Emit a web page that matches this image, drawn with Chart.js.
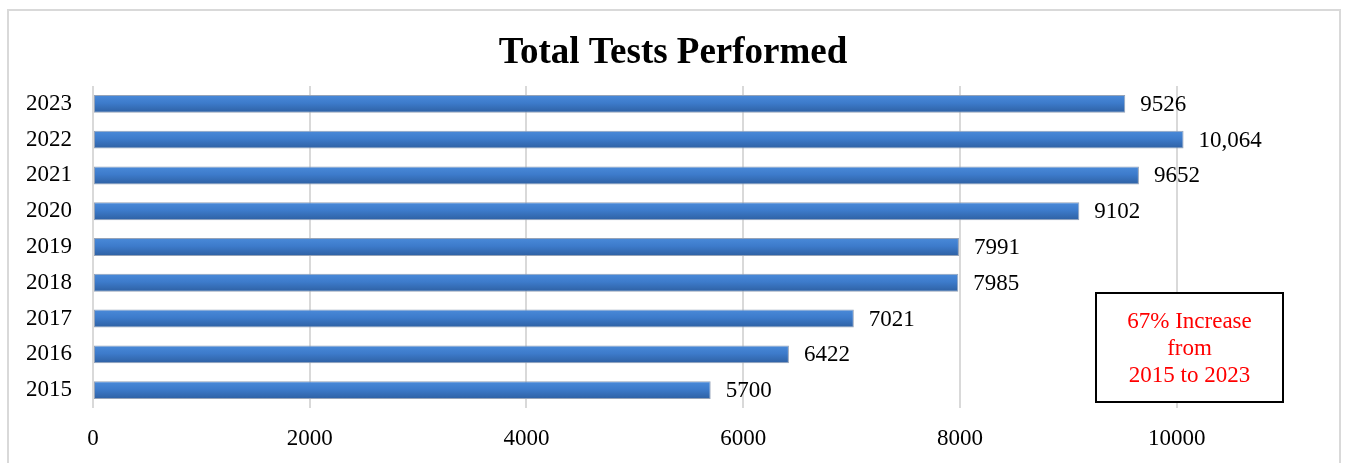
<!DOCTYPE html>
<html>
<head>
<meta charset="utf-8">
<title>Total Tests Performed</title>
<script src="https://cdn.jsdelivr.net/npm/chart.js@4.4.0/dist/chart.umd.min.js"></script>
<style>
  html, body { margin: 0; padding: 0; background: #fff; }
  #wrap { width: 1346px; height: 463px; }
</style>
</head>
<body>
<div id="wrap"><canvas id="barchart"></canvas></div>
<script>
const years = ['2015', '2016', '2017', '2018', '2019', '2020', '2021', '2022', '2023'];
const testsPerformed = [5700, 6422, 7021, 7985, 7991, 9102, 9652, 10064, 9526];
const xTicks = [0, 2000, 4000, 6000, 8000, 10000];
const chartTitle = 'Total Tests Performed';
const noteLines = ['67% Increase', 'from', '2015 to 2023'];

const serif = '"Liberation Serif", "Times New Roman", serif';

function barGradient(context) {
    const chart = context.chart;
    const y = chart.scales && chart.scales.y;
    if (!chart.chartArea || !y || context.dataIndex === undefined) return '#3a78c4';
    const c = y.getPixelForValue(context.dataIndex);
    const g = chart.ctx.createLinearGradient(0, c - 9, 0, c + 9);
    g.addColorStop(0, '#4a8ad9');
    g.addColorStop(0.45, '#3d7bcb');
    g.addColorStop(1, '#2e60a2');
    return g;
}

// frame, title (centred on the whole canvas), value labels and note box
const extras = {
    id: 'extras',
    beforeDraw(chart) {
        const ctx = chart.ctx;
        ctx.save();
        ctx.strokeStyle = '#d9d9d9';
        ctx.lineWidth = 2;
        ctx.strokeRect(8, 10, 1332, 500);
        ctx.font = 'bold 37px ' + serif;
        ctx.fillStyle = '#000';
        ctx.textAlign = 'center';
        ctx.textBaseline = 'alphabetic';
        ctx.fillText(chartTitle, chart.width / 2, 63);
        ctx.restore();
    },
    afterDatasetsDraw(chart) {
        const ctx = chart.ctx;
        const meta = chart.getDatasetMeta(0);
        ctx.save();
        ctx.font = '23px ' + serif;
        ctx.fillStyle = '#000';
        ctx.textBaseline = 'middle';
        ctx.textAlign = 'left';
        meta.data.forEach((bar, i) => {
            const v = testsPerformed[i];
            const txt = v >= 10000 ? v.toLocaleString('en-US') : String(v);
            ctx.fillText(txt, bar.x + 15, bar.y + 1);
        });
        ctx.restore();
    },
    afterDraw(chart) {
        const ctx = chart.ctx;
        const a = chart.chartArea;
        const w = 187, h = 109;
        const x0 = a.right - 2 - w, y0 = a.bottom - 6 - h;
        ctx.save();
        ctx.fillStyle = '#fff';
        ctx.fillRect(x0, y0, w, h);
        ctx.strokeStyle = '#000';
        ctx.lineWidth = 2;
        ctx.strokeRect(x0, y0, w, h);
        ctx.font = '23px ' + serif;
        ctx.fillStyle = '#ff0000';
        ctx.textAlign = 'center';
        ctx.textBaseline = 'middle';
        noteLines.forEach((t, i) => {
            ctx.fillText(t, x0 + w / 2, y0 + 29 + i * 27);
        });
        ctx.restore();
    }
};

const ctx = document.getElementById('barchart').getContext('2d');
const myChart = new Chart(ctx, {
    type: 'bar',
    data: {
        labels: years,
        datasets: [{
            label: chartTitle,
            data: testsPerformed,
            backgroundColor: barGradient,
            borderColor: '#95a3b8',
            borderWidth: 1,
            borderSkipped: false,
            barPercentage: 0.5,
            categoryPercentage: 1.0
        }]
    },
    options: {
        indexAxis: 'y',
        responsive: true,
        maintainAspectRatio: false,
        animation: false,
        layout: { padding: { left: 0, right: 61, top: 86, bottom: 0 } },
        plugins: {
            legend: { display: false },
            tooltip: { enabled: false },
            title: { display: false }
        },
        scales: {
            x: {
                min: 0,
                max: 11000,
                afterBuildTicks(scale) {
                    scale.ticks = xTicks.map(v => ({ value: v }));
                },
                afterFit(scale) { scale.height = 55; },
                grid: { color: '#d9d9d9', lineWidth: 2, drawTicks: false },
                border: { display: false },
                ticks: {
                    color: '#000',
                    padding: 17,
                    font: { family: serif, size: 23 },
                    callback: v => String(v)
                }
            },
            y: {
                reverse: true,
                afterFit(scale) { scale.width = 93; },
                grid: { display: false, drawTicks: false },
                border: { display: false },
                ticks: {
                    color: '#000',
                    padding: 21,
                    font: { family: serif, size: 23 }
                }
            }
        }
    },
    plugins: [extras]
});
</script>
</body>
</html>
